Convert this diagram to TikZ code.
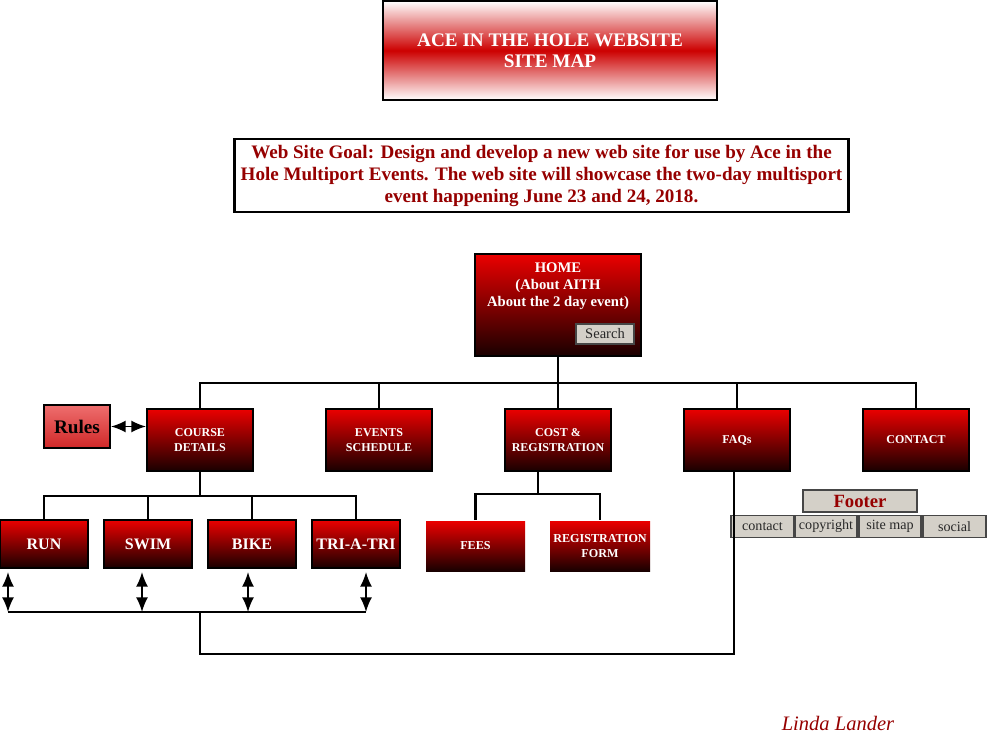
\documentclass[tikz,border=0pt]{standalone}
\usepackage{fontspec}
\setmainfont{Liberation Serif}
\usetikzlibrary{arrows.meta}
\definecolor{bred}{RGB}{235,0,0}
\definecolor{bdark}{RGB}{25,0,0}
\definecolor{tred}{RGB}{204,0,0}
\definecolor{gred}{RGB}{150,0,0}
\definecolor{btn}{RGB}{212,208,200}
\definecolor{rtop}{RGB}{238,110,110}
\definecolor{rbot}{RGB}{208,40,40}
\begin{document}
\begin{tikzpicture}[x=0.75pt,y=-0.75pt,
  rb/.style={draw=black, line width=1.5pt, top color=bred, bottom color=bdark, text=white,
    font=\bfseries\fontsize{9}{11}\selectfont, align=center, inner sep=0pt,
    minimum width=79.5pt, minimum height=46.5pt},
  rbs/.style={rb, minimum width=66pt, minimum height=36pt, font=\bfseries\fontsize{12}{13}\selectfont},
  rbn/.style={rb, draw=none, minimum height=37.5pt, font=\bfseries\fontsize{9.1}{11.2}\selectfont},
  btnbox/.style={draw={rgb,255:red,70;green,70;blue,70}, line width=0.9pt, fill=btn, inner sep=0pt,
    font=\fontsize{10.6}{12}\selectfont, text={rgb,255:red,40;green,40;blue,40}, minimum height=17pt},
  conn/.style={line width=2pt, draw=black},
  dar/.style={line width=1.3pt, {Latex[length=11pt,width=9pt]}-{Latex[length=11pt,width=9pt]}}
]
\useasboundingbox (0,0) rectangle (987,741);
\fill[white] (0,0) rectangle (987,741);

% title
\node[draw=black, line width=1.5pt, top color=white, bottom color=white, middle color=tred,
  minimum width=250.5pt, minimum height=74.25pt, inner sep=0pt, text=white, align=center,
  font=\bfseries\fontsize{14.4}{16}\selectfont] (title) at (550,50.5)
  {ACE IN THE HOLE WEBSITE\\SITE MAP};

% goal
\node[draw=black, line width=2.2pt, minimum width=461pt, minimum height=54.75pt, inner sep=0pt,
  align=center, text=gred, font=\bfseries\fontsize{14.3}{16.5}\selectfont] (goal) at (541.5,175.5)
  {Web Site Goal: Design and develop a new web site for use by Ace in the\\
   Hole Multiport Events. The web site will showcase the two-day multisport\\
   event happening June 23 and 24, 2018.};

% home
\node[rb, minimum width=125pt, minimum height=76.5pt] (home) at (558,305) {};
\node[text=white, align=center, font=\bfseries\fontsize{11}{12.75}\selectfont, inner sep=0pt]
  (homet) at (558,286) {HOME\\(About AITH\\About the 2 day event)};
\node[btnbox, minimum width=43.5pt, minimum height=15pt, font=\fontsize{10.9}{12}\selectfont] (search) at (605,334) {Search};

% row 2
\node[rb] (cd) at (200,440) {COURSE\\DETAILS};
\node[rb] (es) at (379,440) {EVENTS\\SCHEDULE};
\node[rb] (cost) at (558,440) {COST \&\\REGISTRATION};
\node[rb] (faq) at (737,440) {FAQs};
\node[rb] (ct) at (916,440) {CONTACT};

% rules
\node[draw=black, line width=1.5pt, top color=rtop, bottom color=rbot, minimum width=49.5pt,
  minimum height=32.25pt, inner sep=0pt, font=\bfseries\fontsize{14.4}{15}\selectfont] (rules)
  at (77,426.5) {Rules};

% row 3
\node[rbs] (run) at (44,544) {RUN};
\node[rbs] (swim) at (148,544) {SWIM};
\node[rbs] (bike) at (252,544) {BIKE};
\node[rbs] (tri) at (356,544) {TRI-A-TRI};

% fees
\node[rbn, minimum width=74.25pt] (fees) at (475.5,546) {FEES};
\node[rbn, minimum width=75pt] (reg) at (600,546) {REGISTRATION\\FORM};

% footer
\node[btnbox, minimum width=85.5pt, minimum height=16.5pt, text=gred,
  font=\bfseries\fontsize{14}{15}\selectfont] (footer) at (860,501) {Footer};
\node[btnbox, minimum width=47.25pt] (bcontact) at (762.5,526.5) {contact};
\node[btnbox, minimum width=46.5pt] (bcopy) at (826,526.5) {copyright};
\node[btnbox, minimum width=46.5pt] (bsite) at (890,526.5) {site map};
\node[btnbox, minimum width=47.25pt] (bsocial) at (954.5,526.5) {social};

% signature
\node[text=gred, font=\itshape\fontsize{15.4}{17}\selectfont] (sig) at (838,723) {Linda Lander};

% connectors home
\coordinate (hb) at (558,383);
\draw[conn] (home.south) -- (hb);
\draw[conn] (cd.north) |- (hb) -| (ct.north);
\draw[conn] (es.north) -- (es.north |- hb);
\draw[conn] (cost.north) -- (cost.north |- hb);
\draw[conn] (faq.north) -- (faq.north |- hb);

% rules arrow
\draw[dar] (rules.east) -- (rules.east -| cd.west);

% course details children
\coordinate (cdb) at (200,496);
\draw[conn] (cd.south) -- (cdb);
\draw[conn] (run.north) |- (cdb) -| (tri.north);
\draw[conn] (swim.north) -- (swim.north |- cdb);
\draw[conn] (bike.north) -- (bike.north |- cdb);

% cost children
\coordinate (cb) at (538,494);
\draw[conn] ([xshift=-15pt]cost.south) -- (cb);
\draw[conn] (fees.north) |- (cb) -| (reg.north);

% bottom arrows and bus
\coordinate (d1) at (8,612);
\coordinate (d2) at (142,612);
\coordinate (d3) at (248,612);
\coordinate (d4) at (366,612);
\draw[dar] ([shift={(-36,3)}]run.south) -- (d1);
\draw[dar] ([shift={(-6,3)}]swim.south) -- (d2);
\draw[dar] ([shift={(-4,3)}]bike.south) -- (d3);
\draw[dar] ([shift={(10,3)}]tri.south) -- (d4);
\draw[conn] (d1) -- (d4);
\coordinate (bm) at (200,612);
\coordinate (bf) at (200,654);
\draw[conn] (bm) -- (bf) -| ([xshift=-2.25pt]faq.south);
\end{tikzpicture}
\end{document}
